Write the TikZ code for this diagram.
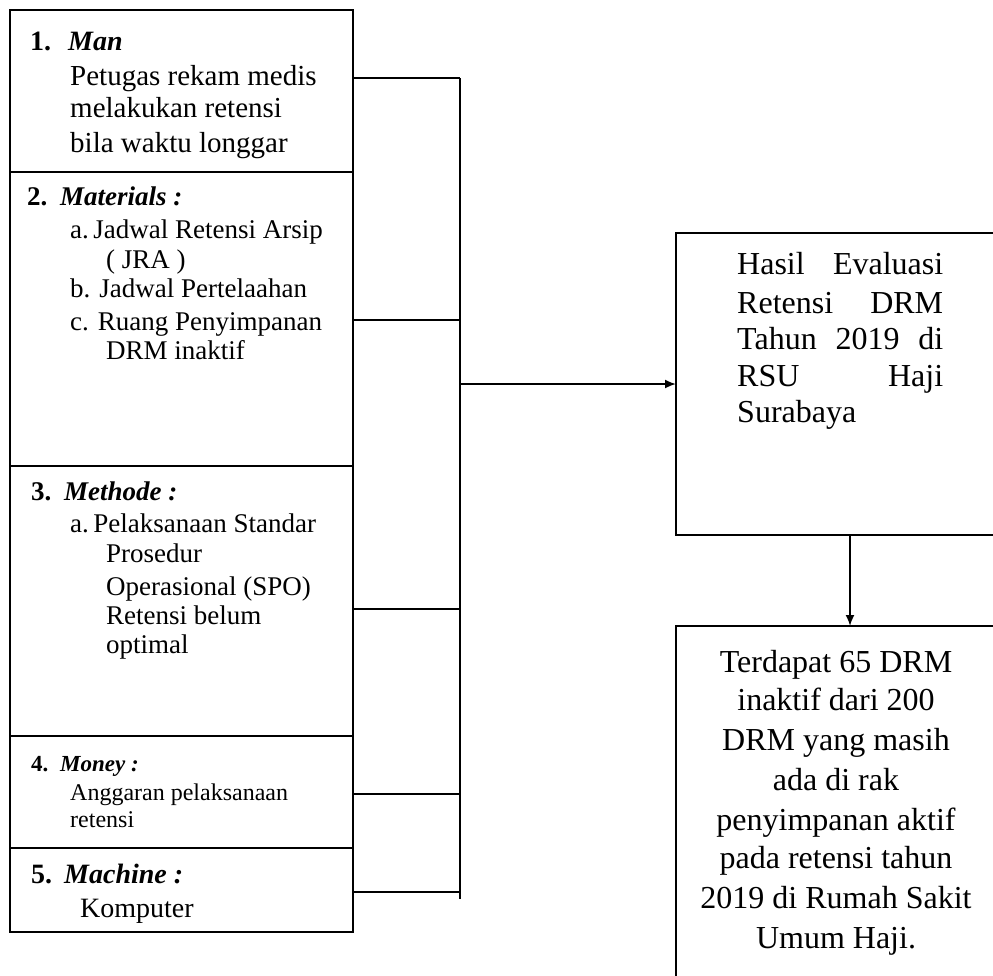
\documentclass[tikz,border=0pt]{standalone}
\usepackage{fontspec}
\setmainfont{Liberation Serif}
\usetikzlibrary{arrows.meta}
\newcommand\fs[1]{\fontsize{#1}{#1}\selectfont}
\tikzset{
  box/.style={draw, line width=2pt, inner sep=0pt, outer sep=0pt, anchor=north west},
  wire/.style={line width=1.8pt},
  arr/.style={wire, -{Latex[length=11pt,width=9pt]}},
  txt/.style={inner sep=0pt, anchor=base west},
  ctxt/.style={inner sep=0pt, anchor=base},
}
\begin{document}
\begin{tikzpicture}[x=1pt,y=-1pt]
\clip (0,0) rectangle (993,975);
\fill[white] (0,0) rectangle (993,975);

% left boxes
\node[box, minimum width=343pt, minimum height=162pt] (m1) at (10,10) {};
\node[box, minimum width=343pt, minimum height=294pt] (m2) at (10,172) {};
\node[box, minimum width=343pt, minimum height=270pt] (m3) at (10,466) {};
\node[box, minimum width=343pt, minimum height=112pt] (m4) at (10,736) {};
\node[box, minimum width=343pt, minimum height=84pt] (m5) at (10,848) {};

% right boxes
\node[box, minimum width=348pt, minimum height=302pt] (hasil) at (676,233) {};
\node[box, minimum width=348pt, minimum height=420pt] (terdapat) at (676,626) {};

% box 1 text
\node[txt, font=\fs{28}\bfseries] (n1) at (30,50) {1.};
\node[txt, font=\fs{28}\bfseries\itshape] (h1) at (68,50) {Man};
\node[txt, font=\fs{29}] (b1a) at (70,85) {Petugas rekam medis};
\node[txt, font=\fs{29}] (b1b) at (70,117) {melakukan retensi};
\node[txt, font=\fs{29}] (b1c) at (70,152) {bila waktu longgar};

% box 2 text
\node[txt, font=\fs{27}\bfseries] (n2) at (27,205) {2.};
\node[txt, font=\fs{27}\bfseries\itshape] (h2) at (60,205) {Materials :};
\node[txt, font=\fs{27}] (b2a) at (70,238) {a.\,Jadwal Retensi Arsip};
\node[txt, font=\fs{27}] (b2b) at (106,268) {( JRA )};
\node[txt, font=\fs{27}] (b2c) at (70,297) {b. Jadwal Pertelaahan};
\node[txt, font=\fs{27}] (b2d) at (70,330) {c. Ruang Penyimpanan};
\node[txt, font=\fs{27}] (b2e) at (106,359) {DRM inaktif};

% box 3 text
\node[txt, font=\fs{27}\bfseries] (n3) at (31,500) {3.};
\node[txt, font=\fs{27}\bfseries\itshape] (h3) at (64,500) {Methode :};
\node[txt, font=\fs{27}] (b3a) at (70,532) {a.\,Pelaksanaan Standar};
\node[txt, font=\fs{27}] (b3b) at (106,562) {Prosedur};
\node[txt, font=\fs{27}] (b3c) at (106,595) {Operasional (SPO)};
\node[txt, font=\fs{27}] (b3d) at (106,624) {Retensi belum};
\node[txt, font=\fs{27}] (b3e) at (106,653) {optimal};

% box 4 text
\node[txt, font=\fs{23}\bfseries] (n4) at (31,771) {4.};
\node[txt, font=\fs{23}\bfseries\itshape] (h4) at (60,771) {Money :};
\node[txt, font=\fs{24}] (b4a) at (70,800) {Anggaran pelaksanaan};
\node[txt, font=\fs{24}] (b4b) at (70,827) {retensi};

% box 5 text
\node[txt, font=\fs{28}\bfseries] (n5) at (31,883) {5.};
\node[txt, font=\fs{28}\bfseries\itshape] (h5) at (64,883) {Machine :};
\node[txt, font=\fs{28}] (b5a) at (80,917) {Komputer};

% right box A text (justified)
\node[txt, font=\fs{32}] (ra1) at (737,274) {\makebox[206pt][s]{Hasil Evaluasi}};
\node[txt, font=\fs{32}] (ra2) at (737,313) {\makebox[206pt][s]{Retensi DRM}};
\node[txt, font=\fs{32}] (ra3) at (737,349) {\makebox[206pt][s]{Tahun 2019 di}};
\node[txt, font=\fs{32}] (ra4) at (737,386) {\makebox[206pt][s]{RSU Haji}};
\node[txt, font=\fs{32}] (ra5) at (737,422) {Surabaya};

% right box B text (centred)
\node[ctxt, font=\fs{32}] (rb1) at (836,672) {Terdapat 65 DRM};
\node[ctxt, font=\fs{32}] (rb2) at (836,710) {inaktif dari 200};
\node[ctxt, font=\fs{32}] (rb3) at (836,750) {DRM yang masih};
\node[ctxt, font=\fs{32}] (rb4) at (836,790) {ada di rak};
\node[ctxt, font=\fs{32}] (rb5) at (836,830) {penyimpanan aktif};
\node[ctxt, font=\fs{32}] (rb6) at (836,868) {pada retensi tahun};
\node[ctxt, font=\fs{32}] (rb7) at (836,908) {2019 di Rumah Sakit};
\node[ctxt, font=\fs{32}] (rb8) at (836,948) {Umum Haji.};

% connectors
\coordinate (j1) at (460,78);
\coordinate (j2) at (460,320);
\coordinate (j3) at (460,609);
\coordinate (j4) at (460,794);
\coordinate (j5) at (460,892);
\coordinate (vb) at (460,899);
\coordinate (jm) at (460,384);

\draw[wire] (j1 -| m1.east) -- (j1);
\draw[wire] (j2 -| m2.east) -- (j2);
\draw[wire] (j3 -| m3.east) -- (j3);
\draw[wire] (j4 -| m4.east) -- (j4);
\draw[wire] (j5 -| m5.east) -- (j5);
\draw[wire] (j1) -- (vb);
\draw[arr] (jm) -- (hasil.west);
\draw[arr] (hasil.south) -- (terdapat.north);
\end{tikzpicture}
\end{document}
